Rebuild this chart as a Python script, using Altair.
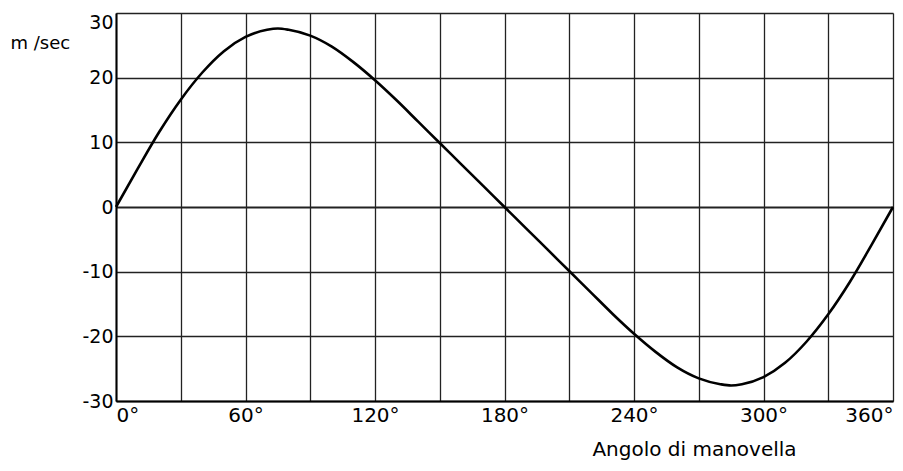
import altair as alt
import pandas as pd

# crank angle (degrees) and piston speed (m/sec)
angles = [0, 10, 20, 30, 40, 50, 60, 70, 75, 80, 90, 100, 110, 120, 130, 140, 150, 160, 170, 180,
          190, 200, 210, 220, 230, 240, 250, 260, 270, 280, 285, 290, 300, 310, 320, 330, 340, 350, 360]
speeds = [0, 5.9, 11.6, 16.6, 20.8, 24.1, 26.3, 27.4, 27.6, 27.4, 26.5, 24.8, 22.4, 19.6, 16.5, 13.2, 9.9, 6.6, 3.3, 0,
          -3.3, -6.6, -9.9, -13.2, -16.5, -19.6, -22.4, -24.8, -26.5, -27.4, -27.6, -27.4, -26.3, -24.1, -20.8, -16.6, -11.6, -5.9, 0]

x_ticks = [0, 30, 60, 90, 120, 150, 180, 210, 240, 270, 300, 330, 360]
y_ticks = [-30, -20, -10, 0, 10, 20, 30]
x_title = "Angolo di manovella"
y_title = "m /sec"

df = pd.DataFrame({"angle": angles, "speed": speeds})

FONT = "DejaVu Sans"

chart = alt.Chart(df).mark_line(color="black", strokeWidth=2.6, interpolate="monotone").encode(
    x=alt.X("angle:Q",
            scale=alt.Scale(domain=[0, 360], nice=False, zero=False),
            axis=alt.Axis(values=x_ticks,
                          labelExpr="datum.value % 60 == 0 ? datum.value + '°' : ''",
                          labelFlush=True, labelFont=FONT, labelFontSize=20,
                          labelColor="black", labelPadding=4, ticks=False,
                          grid=True, gridColor="#222", gridWidth=1.3,
                          domainColor="black", domainWidth=2,
                          title=x_title, titleFont=FONT, titleFontSize=20,
                          titleFontWeight="normal", titleColor="black",
                          titleX=578, titleY=54, titleAlign="center",
                          titleBaseline="alphabetic")),
    y=alt.Y("speed:Q",
            scale=alt.Scale(domain=[-30, 30], nice=False, zero=False),
            axis=alt.Axis(values=y_ticks,
                          labelExpr="'' + datum.value",
                          labelFont=FONT, labelFontSize=19, labelColor="black",
                          labelPadding=3, ticks=False,
                          labelBaseline={"condition": {"test": "datum.value == 30", "value": "top"},
                                         "value": "middle"},
                          grid=True, gridColor="#222",
                          gridWidth={"condition": {"test": "datum.value == 0", "value": 2.2},
                                     "value": 1.3},
                          domainColor="black", domainWidth=2,
                          title=y_title, titleFont=FONT, titleFontSize=18,
                          titleFontWeight="normal", titleColor="black",
                          titleAngle=0, titleX=-106, titleY=30, titleAlign="left",
                          titleBaseline="middle")),
).properties(
    width=777, height=388,
    autosize=alt.AutoSizeParams(type="none"),
    padding={"left": 108, "top": 5, "right": 2, "bottom": 62},
).configure_view(stroke="black", strokeWidth=2).configure(background="white")

chart.save("out.html", embed_options={"renderer": "svg", "actions": False})
